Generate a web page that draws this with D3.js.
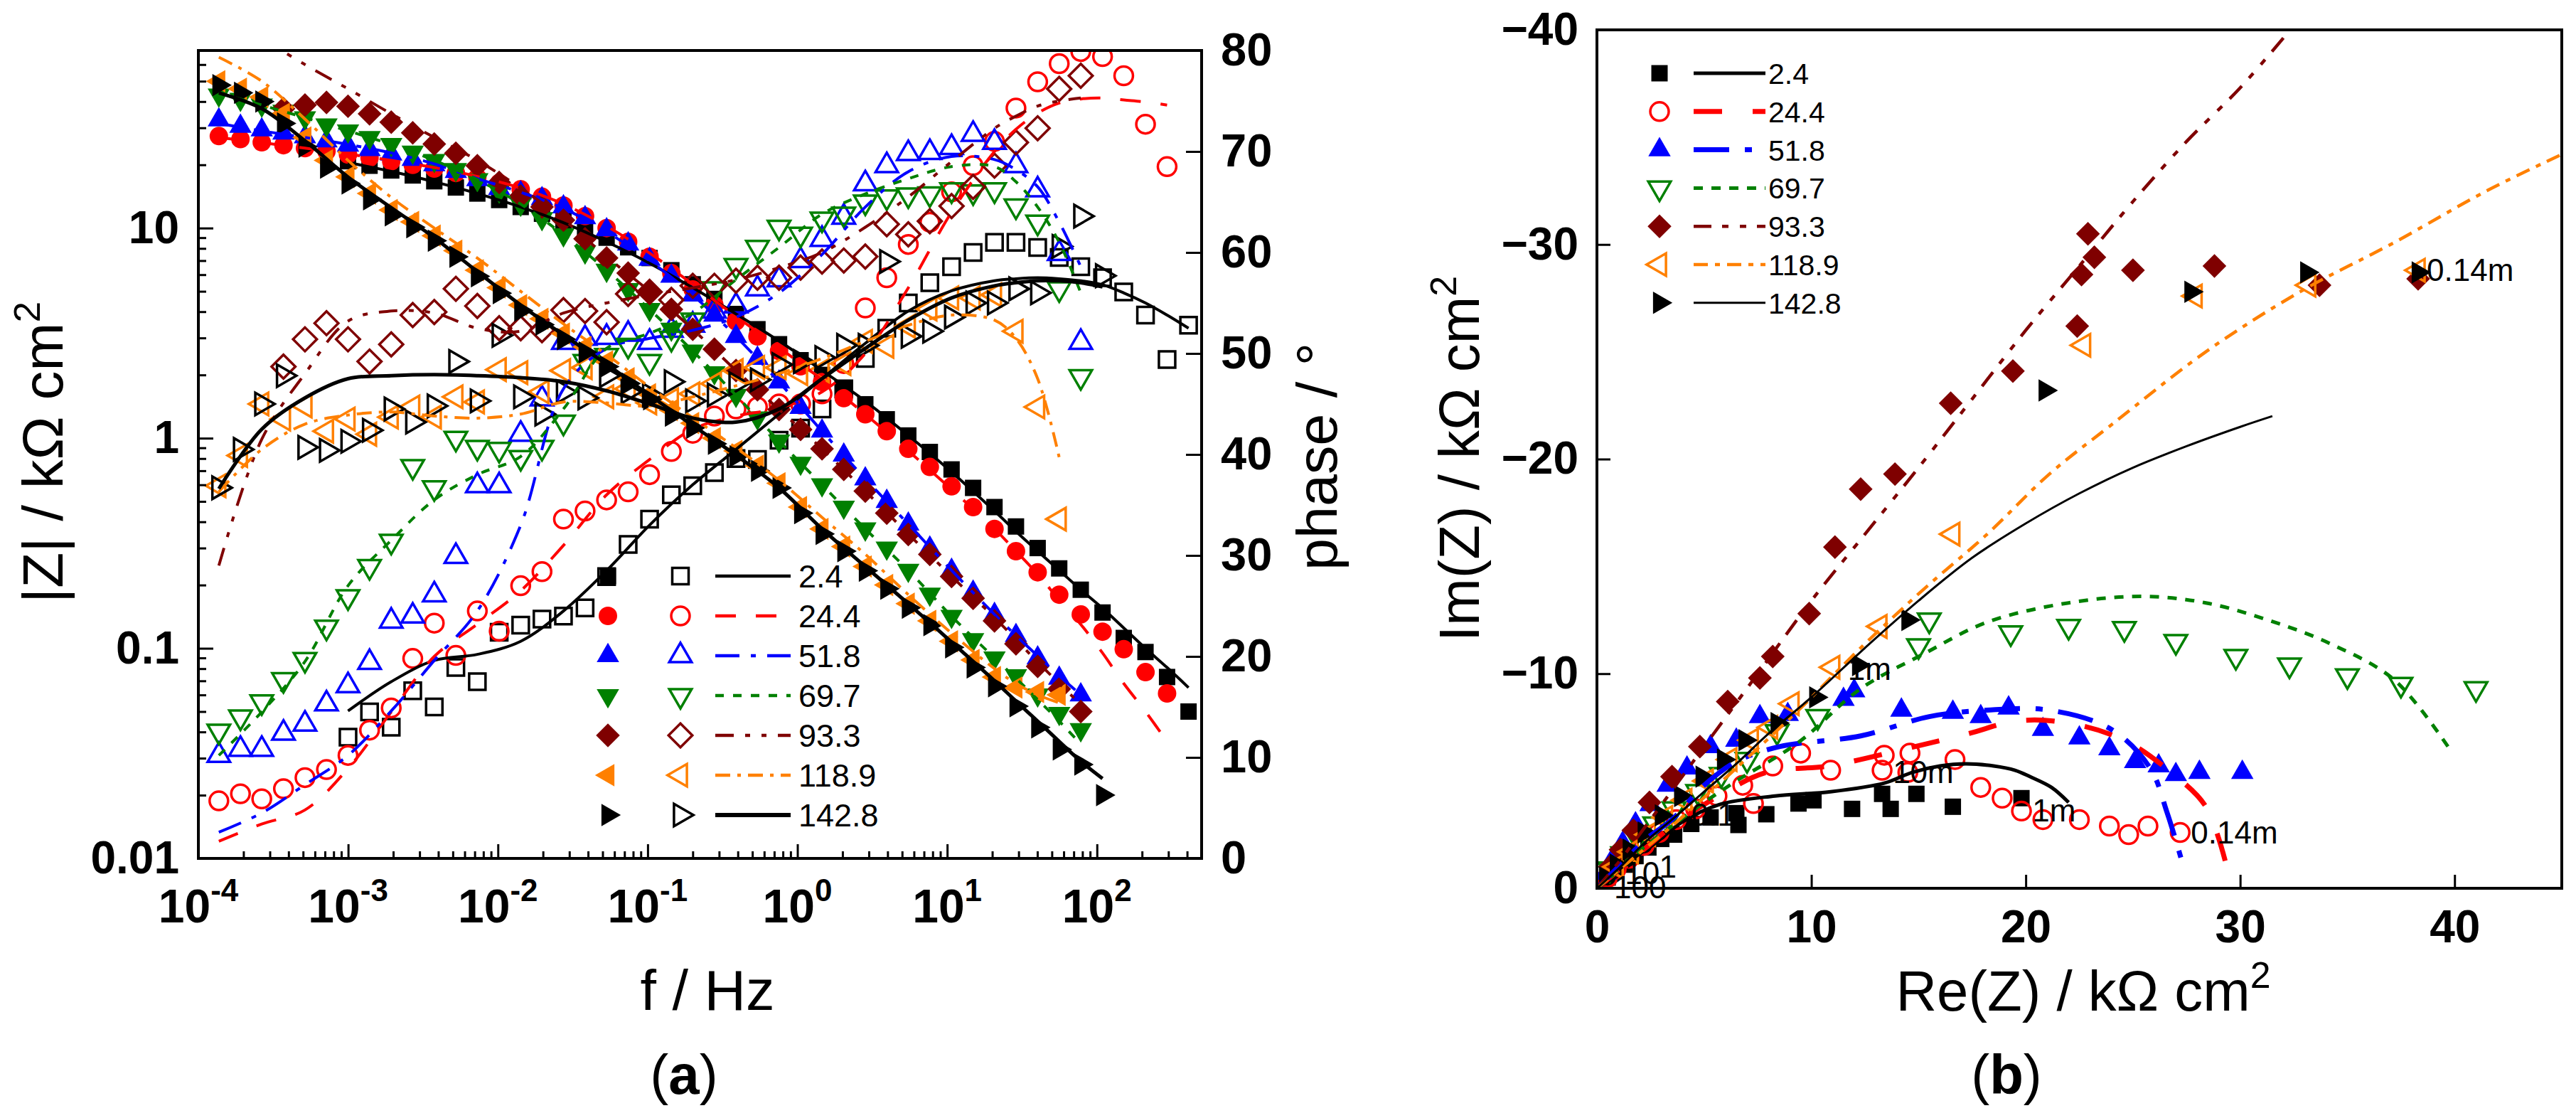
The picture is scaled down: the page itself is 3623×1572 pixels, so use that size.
<!DOCTYPE html>
<html>
<head>
<meta charset="utf-8">
<script src="https://cdnjs.cloudflare.com/ajax/libs/d3/7.8.5/d3.min.js"></script>
<style>
  body { margin: 0; background: #fff; }
  text { font-family: "Liberation Sans", Arial, sans-serif; }
</style>
</head>
<body>
<script>
// ---------------- data ----------------
// measured frequencies (Hz), ~7 per decade
var freq = [1.37e-4, 1.91e-4, 2.65e-4, 3.70e-4, 5.15e-4, 7.17e-4, 9.98e-4, 1.39e-3, 1.94e-3, 2.70e-3,
  3.76e-3, 5.24e-3, 7.29e-3, 0.0102, 0.0142, 0.0197, 0.0274, 0.0382, 0.0532, 0.0741,
  0.103, 0.144, 0.200, 0.279, 0.389, 0.541, 0.754, 1.05, 1.46, 2.04,
  2.84, 3.95, 5.50, 7.66, 10.7, 14.9, 20.7, 28.8, 40.2, 56.0,
  78.0, 109, 151, 211, 294, 409];
// frequencies of the fitted curves
var fitFreq = [1.37e-4, 2.65e-4, 5.15e-4, 9.98e-4, 1.94e-3, 3.76e-3, 7.29e-3, 0.0142, 0.0274, 0.0532,
  0.103, 0.200, 0.389, 0.754, 1.46, 2.84, 5.50, 10.7, 20.7, 28.8, 40.2, 56.0, 78.0, 109, 151, 211, 294, 409];

var names = ["2.4", "24.4", "51.8", "69.7", "93.3", "118.9", "142.8"];
var dataStart = [6, 0, 0, 0, 3, 0, 0];       // index into freq of first point
var fitMagStart = [3, 0, 0, 0, 1, 0, 0];     // index into fitFreq
var fitPhaseStart = [3, 0, 0, 0, 0, 0, 0];

// |Z| / kOhm cm2
var mag_2_4 = [20.8, 19.8, 18.8, 17.8, 16.7, 15.6, 14.6, 13.6, 12.6, 11.7, 10.8, 9.9, 9.0, 8.1, 7.2, 6.3, 5.4, 4.6, 3.9, 3.3,
  2.8, 2.35, 2.0, 1.72, 1.45, 1.23, 1.03, 0.86, 0.71, 0.58, 0.47, 0.38, 0.30, 0.24, 0.19, 0.148, 0.112, 0.096, 0.073, 0.050];
var mag_24_4 = [27.4, 26.5, 25.6, 24.8, 24.0, 23.2, 22.4, 21.6, 20.8, 20.0, 19.2, 18.3, 17.4, 16.4, 15.3, 14.1, 12.8, 11.4, 10.0, 8.6,
  7.3, 6.1, 5.1, 4.3, 3.6, 3.05, 2.6, 2.2, 1.85, 1.55, 1.3, 1.08, 0.89, 0.73, 0.59, 0.47, 0.37, 0.29, 0.23, 0.18, 0.145, 0.12, 0.099, 0.077, 0.061];
var mag_51_8 = [32.7, 30.5, 29.3, 28.3, 27.2, 26.0, 24.8, 23.6, 22.5, 21.2, 20.0, 18.6, 17.0, 15.4, 14.7, 13.8, 12.6, 11.2, 9.8, 8.4,
  7.1, 5.9, 4.8, 3.85, 3.05, 2.4, 1.85, 1.4, 1.08, 0.83, 0.64, 0.50, 0.39, 0.30, 0.235, 0.185, 0.145, 0.115, 0.09, 0.072, 0.060];
var mag_69_7 = [43, 41, 38.5, 36, 33.5, 31, 29, 27, 25, 23, 21, 19, 17, 15, 13, 11.1, 9.3, 7.7, 6.3, 5.1,
  4.1, 3.3, 2.6, 2.05, 1.6, 1.25, 0.97, 0.76, 0.6, 0.47, 0.37, 0.30, 0.235, 0.181, 0.142, 0.110, 0.090, 0.074, 0.060, 0.049, 0.041];
var mag_93_3 = [37, 38.5, 39.6, 38, 35, 31.9, 28.4, 25.1, 22.7, 19.8, 16.5, 14.2, 12.6, 10.9, 8.9, 7.2, 6.1, 5.0, 4.1, 3.3,
  2.65, 2.1, 1.7, 1.37, 1.1, 0.89, 0.71, 0.56, 0.44, 0.348, 0.28, 0.22, 0.173, 0.135, 0.105, 0.082, 0.064, 0.05];
var mag_118_9 = [50, 46, 42, 35, 27, 21, 17.5, 14.6, 12.2, 10.7, 9.2, 7.8, 6.3, 5.2, 4.3, 3.7, 3.15, 2.72, 2.32, 1.93,
  1.62, 1.36, 1.18, 1.0, 0.87, 0.74, 0.61, 0.47, 0.37, 0.305, 0.245, 0.2, 0.163, 0.135, 0.108, 0.088, 0.073, 0.065, 0.062, 0.060];
var mag_142_8 = [47.9, 44, 40, 31.5, 24.4, 19.4, 16.3, 13.7, 11.5, 10.1, 8.7, 7.3, 5.9, 4.9, 4.05, 3.47, 2.96, 2.56, 2.19, 1.82,
  1.53, 1.28, 1.12, 0.94, 0.82, 0.70, 0.58, 0.44, 0.35, 0.29, 0.234, 0.192, 0.156, 0.129, 0.101, 0.081, 0.066, 0.053, 0.042, 0.033, 0.028, 0.020];

// phase / degree
var phase_2_4 = [12.0, 14.5, 13.0, 16.6, 15.0, 18.9, 17.5, 22.4, 23.1, 23.7, 24.0, 24.8, 27.9, 31.1, 33.6, 36.0, 36.9, 38.2, 39.6, 39.5,
  41.4, 42.6, 44.5, 46.5, 49.5, 52.5, 55.0, 57.0, 58.6, 60.0, 61.0, 61.0, 60.5, 59.5, 58.6, 57.5, 56.1, 53.8, 49.4, 52.8];
var phase_24_4 = [5.7, 6.4, 5.9, 6.9, 8.0, 8.8, 10.2, 12.7, 14.9, 19.8, 23.3, 20.1, 24.5, 22.5, 27.0, 28.4, 33.6, 34.4, 35.5, 36.3,
  38.0, 40.3, 42.1, 43.8, 44.5, 44.7, 45.0, 45.0, 46.0, 49.0, 54.5, 57.5, 60.8, 63.0, 66.0, 68.6, 71.0, 74.3, 76.9, 78.7, 79.9, 79.4, 77.5, 72.7, 68.5];
var phase_51_8 = [10.2, 10.8, 10.8, 12.4, 13.3, 15.3, 17.1, 19.4, 23.5, 24.0, 26.1, 29.9, 36.9, 36.9, 42.0, 45.5, 51.1, 51.5, 51.6, 51.9,
  51.1, 52.3, 52.8, 54.2, 54.7, 56.4, 57.3, 59.2, 61.3, 63.5, 66.8, 68.6, 69.8, 69.9, 70.4, 71.7, 70.9, 68.6, 66.2, 59.9, 51.1];
var phase_69_7 = [12.6, 14.0, 15.5, 17.7, 19.7, 22.9, 25.9, 28.9, 31.4, 38.8, 36.7, 41.6, 40.7, 40.5, 39.7, 40.7, 43.2, 49.2, 49.8, 50.8,
  49.2, 51.5, 53.3, 56.4, 58.7, 60.5, 62.5, 61.8, 63.3, 63.8, 65.0, 65.5, 65.7, 65.8, 66.2, 66.0, 66.2, 64.6, 63.0, 56.4, 47.7];
var phase_93_3 = [48.7, 51.4, 53.0, 51.4, 49.2, 50.9, 53.8, 54.1, 56.4, 54.7, 52.5, 52.5, 52.3, 54.3, 54.2, 53.1, 55.9, 56.1, 55.3, 56.7,
  56.7, 57.2, 57.5, 57.5, 58.5, 59.1, 59.2, 59.6, 62.8, 61.8, 63.1, 64.6, 66.5, 68.6, 70.9, 72.3, 76.2, 77.5];
var phase_118_9 = [36.9, 39.9, 45.0, 43.5, 44.8, 42.3, 43.5, 42.0, 43.7, 44.7, 43.7, 45.7, 45.2, 48.4, 48.1, 46.2, 48.3, 48.6, 45.7, 46.5,
  45.1, 45.4, 46.0, 47.0, 48.3, 48.6, 48.6, 48.0, 48.3, 49.0, 51.2, 50.7, 52.7, 54.4, 55.5, 55.5, 55.8, 52.2, 44.7, 33.6];
var phase_142_8 = [36.7, 40.5, 45.0, 47.8, 40.7, 40.4, 41.3, 42.4, 44.5, 43.2, 44.8, 49.2, 45.3, 51.8, 45.7, 44.0, 46.2, 45.6, 47.8, 46.2,
  45.9, 47.2, 45.3, 45.9, 47.0, 47.4, 48.9, 49.2, 49.6, 50.8, 50.8, 59.1, 51.7, 52.2, 53.6, 55.0, 55.0, 56.4, 56.0, 60.6, 63.6, 57.7];

// fitted |Z|
var fitMag_2_4 = [20.5, 18.6, 16.6, 14.6, 12.6, 10.6, 8.6, 6.8, 5.2, 3.9, 2.9, 2.1, 1.5, 1.03, 0.69, 0.45, 0.36, 0.29, 0.235, 0.19, 0.155, 0.125, 0.1, 0.081, 0.065];
var fitMag_24_4 = [27.0, 25.5, 24.0, 22.5, 21.0, 19.4, 17.6, 15.5, 13.0, 10.2, 7.6, 5.4, 3.8, 2.7, 1.9, 1.3, 0.87, 0.57, 0.37, 0.29, 0.225, 0.17, 0.13, 0.095, 0.068, 0.05, 0.036];
var fitMag_51_8 = [31.5, 29.0, 27.0, 25.0, 22.8, 20.2, 17.2, 14.8, 12.4, 9.6, 7.0, 4.8, 3.05, 1.85, 1.08, 0.64, 0.39, 0.235, 0.145, 0.115, 0.092, 0.074, 0.06];
var fitMag_69_7 = [44, 38.5, 33.5, 29, 25, 21, 17, 13, 9.3, 6.3, 4.1, 2.6, 1.6, 0.97, 0.6, 0.37, 0.235, 0.142, 0.09, 0.072, 0.057, 0.045, 0.035];
var fitMag_93_3 = [80, 60, 46, 35, 27, 21, 15.5, 11, 7.3, 5.0, 3.3, 2.1, 1.37, 0.89, 0.56, 0.35, 0.22, 0.14, 0.11, 0.086, 0.068, 0.054];
var fitMag_118_9 = [65, 50, 33, 21, 14, 10, 7.2, 5.0, 3.5, 2.5, 1.75, 1.25, 0.9, 0.63, 0.42, 0.28, 0.18, 0.118, 0.08, 0.068, 0.06, 0.055];
var fitMag_142_8 = [44, 37, 26, 17.5, 12.5, 9.0, 6.2, 4.3, 3.1, 2.25, 1.6, 1.15, 0.83, 0.58, 0.37, 0.245, 0.163, 0.107, 0.07, 0.056, 0.045, 0.036, 0.029, 0.024];

// fitted phase
var fitPhase_2_4 = [14.6, 17.5, 19.6, 20.2, 21.5, 24.5, 28.5, 33.0, 37.0, 40.5, 44.0, 47.5, 51.0, 54.2, 56.2, 57.2, 57.4, 57.5, 57.4, 57.2, 56.8, 56.0, 55.0, 53.8, 52.5];
var fitPhase_24_4 = [1.7, 3.4, 4.8, 8.9, 14.5, 20.0, 23.2, 26.5, 31.0, 36.0, 39.5, 42.5, 43.8, 44.6, 46.2, 50.0, 56.5, 64.0, 70.0, 72.2, 73.8, 74.8, 75.2, 75.3, 75.1, 74.9, 74.6];
var fitPhase_51_8 = [2.6, 4.5, 7.3, 10.2, 14.6, 19.6, 24.5, 33.0, 46.5, 50.5, 51.5, 52.3, 53.6, 56.0, 59.8, 64.5, 68.0, 69.5, 69.2, 68.2, 66.5, 63.0, 58.6];
var fitPhase_69_7 = [10.2, 14.5, 19.5, 27.0, 31.5, 35.5, 38.0, 39.8, 44.5, 50.5, 52.0, 54.0, 57.3, 60.5, 63.8, 65.8, 67.3, 68.5, 68.5, 67.0, 64.5, 61.0, 56.0];
var fitPhase_93_3 = [29.0, 41.5, 48.0, 53.2, 54.2, 54.0, 52.5, 52.2, 54.0, 55.0, 55.8, 56.5, 57.3, 58.5, 60.0, 62.5, 65.5, 69.0, 72.3, 73.5, 74.5, 75.0, 75.3];
var fitPhase_118_9 = [36.3, 40.5, 43.0, 43.9, 44.2, 43.8, 43.6, 44.0, 45.2, 45.1, 44.8, 45.7, 46.8, 48.0, 49.5, 51.2, 52.8, 53.8, 53.3, 51.5, 47.5, 39.7];
var fitPhase_142_8 = [36.6, 42.5, 45.6, 47.5, 47.8, 47.9, 47.8, 47.6, 47.2, 46.3, 45.0, 43.6, 43.2, 44.5, 47.5, 50.5, 53.3, 55.5, 56.7, 57.0, 57.2, 57.2, 57.0, 56.6];

// Nyquist: measured points Re(Z), Im(Z) / kOhm cm2
var nyRe_2_4 = [19.8, 16.6, 14.9, 13.7, 13.3, 11.9, 10.1, 9.4, 7.9, 6.6, 6.5, 5.3, 4.4, 3.6, 3.0, 2.4, 1.8, 1.3, 0.9, 0.5, 0.3];
var nyIm_2_4 = [-4.2, -3.8, -4.4, -3.7, -4.4, -3.7, -4.1, -3.95, -3.45, -2.95, -3.5, -3.3, -3.0, -2.5, -2.3, -1.9, -1.5, -1.1, -0.8, -0.5, -0.3];
var nyRe_24_4 = [27.2, 25.7, 24.8, 23.9, 22.5, 20.8, 19.8, 18.9, 17.9, 16.7, 14.6, 14.5, 13.4, 13.3, 10.9, 9.5, 8.2, 7.3, 6.8, 5.6, 4.6, 3.7, 2.9, 2.2, 1.5, 0.9, 0.5];
var nyIm_24_4 = [-2.6, -2.9, -2.5, -2.9, -3.2, -3.2, -3.6, -4.2, -4.7, -6.0, -6.3, -5.4, -6.2, -5.5, -5.5, -6.3, -5.7, -3.95, -4.8, -4.3, -3.7, -3.2, -2.6, -2.0, -1.4, -0.9, -0.5];
var nyRe_51_8 = [30.1, 28.1, 27.0, 26.2, 25.1, 23.9, 22.5, 20.8, 19.2, 17.9, 16.6, 14.2, 12.0, 11.5, 8.9, 7.6, 6.5, 5.3, 4.2, 3.3, 2.5, 1.8, 1.2, 0.7, 0.4];
var nyIm_51_8 = [-5.4, -5.4, -5.3, -5.7, -5.9, -6.5, -7.0, -7.4, -8.4, -8.0, -8.2, -8.3, -9.2, -8.8, -8.1, -8.0, -6.9, -6.6, -5.6, -4.8, -3.9, -3.0, -2.1, -1.3, -0.7];
var nyRe_69_7 = [41.0, 37.5, 35.0, 32.3, 29.8, 27.0, 24.6, 22.0, 19.3, 15.5, 15.0, 10.3, 8.4, 7.0, 5.8, 4.7, 3.6, 2.7, 1.9, 1.2, 0.6];
var nyIm_69_7 = [-9.3, -9.5, -9.9, -10.4, -10.8, -11.5, -12.1, -12.2, -11.9, -12.5, -11.3, -8.0, -7.3, -6.0, -5.3, -4.5, -3.7, -3.0, -2.3, -1.6, -0.9];
var nyRe_93_3 = [38.3, 33.7, 28.8, 25.0, 23.2, 22.9, 22.6, 22.4, 19.4, 16.5, 13.9, 12.3, 11.1, 9.9, 8.2, 7.6, 6.1, 4.8, 3.5, 2.45, 1.7, 1.1, 0.6];
var nyIm_93_3 = [-28.4, -28.1, -29.0, -28.8, -29.4, -30.5, -28.6, -26.2, -24.1, -22.6, -19.3, -18.6, -15.9, -12.8, -10.8, -9.8, -8.7, -6.6, -5.2, -4.0, -2.7, -1.8, -1.0];
var nyRe_118_9 = [38.3, 33.2, 27.9, 22.7, 16.6, 13.2, 11.0, 9.1, 8.1, 7.2, 6.2, 5.1, 4.1, 3.2, 2.4, 1.6, 0.9];
var nyIm_118_9 = [-28.8, -28.1, -27.6, -25.3, -16.5, -12.2, -10.3, -8.6, -7.5, -6.9, -6.0, -5.0, -4.1, -3.3, -2.5, -1.7, -1.0];
var nyRe_142_8 = [38.3, 33.1, 27.7, 20.9, 14.5, 12.2, 10.2, 8.4, 6.9, 5.9, 4.9, 3.9, 3.0, 2.2, 1.5, 0.9, 0.4];
var nyIm_142_8 = [-28.7, -28.7, -27.8, -23.2, -12.5, -10.4, -8.9, -7.7, -6.9, -6.0, -5.2, -4.3, -3.4, -2.6, -1.8, -1.1, -0.5];

// Nyquist: fitted curves
var nyFitRe_2_4 = [0, 0.8, 1.7, 2.65, 4.0, 5.7, 8.3, 10.9, 13.4, 14.7, 16.0, 17.2, 18.5, 19.5, 20.2, 21.2, 22.0];
var nyFitIm_2_4 = [0, -0.7, -1.4, -2.05, -3.1, -3.9, -4.3, -4.5, -4.9, -5.4, -5.7, -5.8, -5.7, -5.5, -5.2, -4.7, -4.0];
var nyFitRe_24_4 = [0, 1.2, 2.3, 3.5, 5.5, 7.9, 10.8, 14.4, 17.3, 19.6, 22.0, 24.6, 26.9, 28.4, 29.4];
var nyFitIm_24_4 = [0, -1.0, -1.9, -2.9, -4.2, -5.4, -5.7, -6.5, -7.2, -7.8, -7.7, -6.9, -5.3, -3.8, -0.9];
var nyFitRe_51_8 = [0, 1.2, 2.3, 3.5, 5.0, 6.5, 8.5, 12.3, 15.5, 18.2, 21.1, 24.0, 25.8, 26.6, 27.3];
var nyFitIm_51_8 = [0, -1.2, -2.3, -3.2, -4.8, -5.9, -6.6, -7.1, -8.0, -8.3, -8.3, -7.4, -5.6, -3.5, -1.2];
var nyFitRe_69_7 = [0, 1.2, 2.3, 3.5, 5.0, 6.5, 9.4, 12.3, 15.2, 18.2, 22.0, 25.5, 28.4, 31.3, 34.2, 37.2, 39.9];
var nyFitIm_69_7 = [0, -1.0, -2.0, -2.9, -4.0, -5.0, -6.8, -9.3, -10.9, -12.4, -13.3, -13.6, -13.3, -12.5, -11.4, -9.7, -6.3];
var nyFitRe_93_3 = [0, 1.0, 2.5, 5.0, 7.5, 10.0, 12.5, 15.0, 17.5, 20.0, 22.5, 25.0, 27.5, 30.0, 32.5];
var nyFitIm_93_3 = [0, -1.2, -3.2, -6.6, -10.0, -13.4, -16.5, -19.6, -22.8, -26.0, -29.0, -32.0, -34.8, -37.3, -40.2];
var nyFitRe_118_9 = [0, 1.2, 2.3, 3.5, 6.5, 9.4, 12.3, 15.2, 18.2, 21.1, 24.0, 28.4, 32.8, 37.2, 41.5, 45.0];
var nyFitIm_118_9 = [0, -1.0, -1.9, -2.9, -5.6, -8.3, -11.2, -13.9, -16.5, -19.3, -21.6, -25.0, -27.8, -30.1, -32.5, -34.2];
var nyFitRe_142_8 = [0, 1.2, 2.3, 3.5, 5.0, 6.5, 8.0, 10.0, 12.5, 15.0, 17.5, 20.0, 22.5, 25.0, 27.5, 30.0, 31.5];
var nyFitIm_142_8 = [0, -1.1, -2.2, -3.2, -4.5, -5.8, -7.2, -8.9, -11.2, -13.4, -15.4, -17.0, -18.4, -19.6, -20.6, -21.5, -22.0];

// frequency annotations in the Nyquist plot
var nyLabelText = ["0.14m", "0.14m", "1m", "10m", "1m", "0.1", "1", "10", "100"];
var nyLabelRe = [38.7, 27.7, 20.3, 13.8, 11.7, 4.4, 2.9, 1.3, 0.8];
var nyLabelIm = [-28.3, -2.1, -3.1, -4.9, -9.7, -2.9, -0.5, -0.2, 0.45];

// ---------------- styles ----------------
var colors = ["#000000", "#ff0000", "#0000ff", "#008000", "#7f0000", "#ff8000", "#000000"];
var shapes = ["square", "circle", "up", "down", "diamond", "left", "right"];
var dashA = ["", "29,28", "34,16,7,16", "12,13", "26,16,7,16,7,16", "21,10,5,10", ""];
var widthA = [4, 4, 4, 4, 4, 4, 5];
var dashB = ["", "40,43", "50,22,10,22", "13,12", "25,15,9,16,9,15", "20,10,7,10", ""];
var widthB = [5, 7, 7, 5, 4.5, 4.5, 3];
var filledB = [true, false, true, false, true, false, true];

var magData = [mag_2_4, mag_24_4, mag_51_8, mag_69_7, mag_93_3, mag_118_9, mag_142_8];
var phaseData = [phase_2_4, phase_24_4, phase_51_8, phase_69_7, phase_93_3, phase_118_9, phase_142_8];
var fitMagData = [fitMag_2_4, fitMag_24_4, fitMag_51_8, fitMag_69_7, fitMag_93_3, fitMag_118_9, fitMag_142_8];
var fitPhaseData = [fitPhase_2_4, fitPhase_24_4, fitPhase_51_8, fitPhase_69_7, fitPhase_93_3, fitPhase_118_9, fitPhase_142_8];
var nyRe = [nyRe_2_4, nyRe_24_4, nyRe_51_8, nyRe_69_7, nyRe_93_3, nyRe_118_9, nyRe_142_8];
var nyIm = [nyIm_2_4, nyIm_24_4, nyIm_51_8, nyIm_69_7, nyIm_93_3, nyIm_118_9, nyIm_142_8];
var nyFitRe = [nyFitRe_2_4, nyFitRe_24_4, nyFitRe_51_8, nyFitRe_69_7, nyFitRe_93_3, nyFitRe_118_9, nyFitRe_142_8];
var nyFitIm = [nyFitIm_2_4, nyFitIm_24_4, nyFitIm_51_8, nyFitIm_69_7, nyFitIm_93_3, nyFitIm_118_9, nyFitIm_142_8];

var FONT = "'Liberation Sans', Arial, sans-serif";
var rotation = {square: 0, circle: 0, up: 0, down: 180, diamond: 45, left: -90, right: 90};
var symSize = {square: 529, circle: 530, up: 430, down: 430, diamond: 560, left: 430, right: 430};

function symbolPath(shape) {
  var t = shape === "circle" ? d3.symbolCircle : (shape === "square" || shape === "diamond") ? d3.symbolSquare : d3.symbolTriangle;
  return d3.symbol().type(t).size(symSize[shape])();
}

function drawMarkers(g, pts, shape, color, filled) {
  g.selectAll(null).data(pts).enter().append("path")
    .attr("d", symbolPath(shape))
    .attr("transform", function(d) { return "translate(" + d[0] + "," + d[1] + ") rotate(" + rotation[shape] + ")"; })
    .attr("fill", filled ? color : "none")
    .attr("stroke", filled ? "none" : color)
    .attr("stroke-width", 3.5);
}

function drawLine(g, pts, color, dash, width) {
  g.append("path")
    .attr("d", d3.line().curve(d3.curveCatmullRom)(pts))
    .attr("fill", "none")
    .attr("stroke", color)
    .attr("stroke-width", width)
    .attr("stroke-dasharray", dash || null);
}

function styleAxis(g, size) {
  g.select(".domain").remove();
  g.selectAll(".tick line").attr("stroke", "#000").attr("stroke-width", 3);
  g.selectAll(".tick text")
    .attr("font-family", FONT).attr("font-size", size)
    .attr("font-weight", "bold").attr("fill", "#000");
}

var svg = d3.select("body").append("svg")
  .attr("width", 3623).attr("height", 1572);
svg.append("rect").attr("width", 3623).attr("height", 1572).attr("fill", "#fff");
var defs = svg.append("defs");

// ================= panel (a): Bode =================
var a = {left: 279, right: 1690, top: 71, bottom: 1207};
var xF = d3.scaleLog().domain([1e-4, 500]).range([a.left, a.right]);
var yMag = d3.scaleLog().domain([0.01, 70]).range([a.bottom, a.top]);
var yPhase = d3.scaleLinear().domain([0, 80]).range([a.bottom, a.top]);

defs.append("clipPath").attr("id", "clipA").append("rect")
  .attr("x", a.left).attr("y", a.top).attr("width", a.right - a.left).attr("height", a.bottom - a.top);
var plotA = svg.append("g").attr("clip-path", "url(#clipA)");

names.forEach(function(n, i) {
  var s = dataStart[i];
  var magPts = magData[i].map(function(v, j) { return [xF(freq[s + j]), yMag(v)]; });
  var phPts = phaseData[i].map(function(v, j) { return [xF(freq[s + j]), yPhase(v)]; });
  drawMarkers(plotA, phPts, shapes[i], colors[i], false);
  drawMarkers(plotA, magPts, shapes[i], colors[i], true);
});
names.forEach(function(n, i) {
  var fm = fitMagData[i].map(function(v, j) { return [xF(fitFreq[fitMagStart[i] + j]), yMag(v)]; });
  var fp = fitPhaseData[i].map(function(v, j) { return [xF(fitFreq[fitPhaseStart[i] + j]), yPhase(v)]; });
  drawLine(plotA, fm, colors[i], dashA[i], widthA[i]);
  drawLine(plotA, fp, colors[i], dashA[i], widthA[i]);
});

// axes of (a)
var majorF = [1e-4, 1e-3, 1e-2, 1e-1, 1, 10, 100];
var expF = ["-4", "-3", "-2", "-1", "0", "1", "2"];
var minorF = [];
majorF.forEach(function(d) { for (var m = 2; m <= 9; m++) { if (m * d < 499) minorF.push(m * d); } });
var majorZ = [0.01, 0.1, 1, 10];
var minorZ = [];
[0.01, 0.1, 1, 10].forEach(function(d) { for (var m = 2; m <= 9; m++) { if (m * d < 70) minorZ.push(m * d); } });

svg.append("g").attr("transform", "translate(0," + a.bottom + ")")
  .call(d3.axisBottom(xF).tickValues(majorF).tickSize(-20).tickFormat(""))
  .call(styleAxis, 60);
svg.append("g").attr("transform", "translate(0," + a.bottom + ")")
  .call(d3.axisBottom(xF).tickValues(minorF).tickSize(-10).tickFormat(""))
  .call(styleAxis, 60);
var xLab = svg.append("g");
majorF.forEach(function(f, i) {
  var t = xLab.append("text").attr("x", xF(f)).attr("y", 1297)
    .attr("text-anchor", "middle").attr("font-family", FONT)
    .attr("font-weight", "bold").attr("font-size", 66);
  t.append("tspan").text("10");
  t.append("tspan").attr("dy", -30).attr("font-size", 44).text(expF[i]);
});

svg.append("g").attr("transform", "translate(" + a.left + ",0)")
  .call(d3.axisLeft(yMag).tickValues(majorZ).tickSize(-21).tickPadding(27)
    .tickFormat(function(d) { return d >= 1 ? d3.format("d")(d) : String(d); }))
  .call(styleAxis, 64);
svg.append("g").attr("transform", "translate(" + a.left + ",0)")
  .call(d3.axisLeft(yMag).tickValues(minorZ).tickSize(-11).tickFormat(""))
  .call(styleAxis, 64);
svg.append("g").attr("transform", "translate(" + a.right + ",0)")
  .call(d3.axisRight(yPhase).tickValues(d3.range(0, 81, 10)).tickSize(-22).tickPadding(27))
  .call(styleAxis, 65);

svg.append("rect").attr("x", a.left).attr("y", a.top)
  .attr("width", a.right - a.left).attr("height", a.bottom - a.top)
  .attr("fill", "none").attr("stroke", "#000").attr("stroke-width", 4);

// legend of (a)
var legA = svg.append("g");
names.forEach(function(n, i) {
  var y = 810 + 56 * i;
  drawMarkers(legA, [[855, y]], shapes[i], colors[i], true);
  drawMarkers(legA, [[957, y]], shapes[i], colors[i], false);
  legA.append("line").attr("x1", 1006).attr("x2", 1112).attr("y1", y).attr("y2", y)
    .attr("stroke", colors[i]).attr("stroke-width", i === 6 ? 6 : 4.5)
    .attr("stroke-dasharray", dashA[i] || null);
  legA.append("text").attr("x", 1123).attr("y", y + 16)
    .attr("font-family", FONT).attr("font-size", 45).text(n);
});

// titles of (a)
svg.append("text").attr("transform", "translate(88,636) rotate(-90)")
  .attr("text-anchor", "middle").attr("font-family", FONT).attr("font-size", 80)
  .attr("textLength", 424).attr("lengthAdjust", "spacingAndGlyphs")
  .call(function(t) { t.append("tspan").text("|Z| / k\u03A9 cm"); t.append("tspan").attr("dy", -32).attr("font-size", 52).text("2"); });
svg.append("text").attr("transform", "translate(1880,642) rotate(-90)")
  .attr("text-anchor", "middle").attr("font-family", FONT).attr("font-size", 80)
  .attr("textLength", 320).attr("lengthAdjust", "spacingAndGlyphs")
  .text("phase / \u00B0");
svg.append("text").attr("x", 995).attr("y", 1420)
  .attr("text-anchor", "middle").attr("font-family", FONT).attr("font-size", 80)
  .attr("textLength", 189).attr("lengthAdjust", "spacingAndGlyphs")
  .text("f / Hz");

// ================= panel (b): Nyquist =================
var b = {left: 2246, right: 3603, top: 42, bottom: 1249};
var xRe = d3.scaleLinear().domain([0, 45]).range([b.left, b.right]);
var yIm = d3.scaleLinear().domain([0, -40]).range([b.bottom, b.top]);

defs.append("clipPath").attr("id", "clipB").append("rect")
  .attr("x", b.left).attr("y", b.top).attr("width", b.right - b.left).attr("height", b.bottom - b.top);
var plotB = svg.append("g").attr("clip-path", "url(#clipB)");

names.forEach(function(n, i) {
  var pts = nyRe[i].map(function(v, j) { return [xRe(v), yIm(nyIm[i][j])]; });
  drawMarkers(plotB, pts, shapes[i], colors[i], filledB[i]);
});
names.forEach(function(n, i) {
  var pts = nyFitRe[i].map(function(v, j) { return [xRe(v), yIm(nyFitIm[i][j])]; });
  drawLine(plotB, pts, colors[i], dashB[i], widthB[i]);
});

svg.append("g").attr("class", "nylabels").selectAll("text")
  .data(nyLabelText).enter().append("text")
  .attr("x", function(d, i) { return xRe(nyLabelRe[i]); })
  .attr("y", function(d, i) { return yIm(nyLabelIm[i]); })
  .attr("font-family", FONT).attr("font-size", 44).attr("fill", "#000")
  .text(function(d) { return d; });

svg.append("g").attr("transform", "translate(0," + b.bottom + ")")
  .call(d3.axisBottom(xRe).tickValues([0, 10, 20, 30, 40]).tickSize(-19).tickPadding(31))
  .call(styleAxis, 64);
svg.append("g").attr("transform", "translate(" + b.left + ",0)")
  .call(d3.axisLeft(yIm).tickValues([0, -10, -20, -30, -40]).tickSize(-19).tickPadding(26)
    .tickFormat(function(d) { return d === 0 ? "0" : "\u2212" + Math.abs(d); }))
  .call(styleAxis, 64);

svg.append("rect").attr("x", b.left).attr("y", b.top)
  .attr("width", b.right - b.left).attr("height", b.bottom - b.top)
  .attr("fill", "none").attr("stroke", "#000").attr("stroke-width", 4);

// legend of (b)
var legB = svg.append("g");
names.forEach(function(n, i) {
  var y = 103 + 53.8 * i;
  drawMarkers(legB, [[2334, y]], shapes[i], colors[i], filledB[i]);
  legB.append("line").attr("x1", 2382).attr("x2", 2483).attr("y1", y).attr("y2", y)
    .attr("stroke", colors[i]).attr("stroke-width", widthB[i])
    .attr("stroke-dasharray", dashB[i] || null);
  legB.append("text").attr("x", 2487).attr("y", y + 15)
    .attr("font-family", FONT).attr("font-size", 41).text(n);
});

svg.append("text").attr("transform", "translate(2080,645) rotate(-90)")
  .attr("text-anchor", "middle").attr("font-family", FONT).attr("font-size", 80)
  .attr("textLength", 514).attr("lengthAdjust", "spacingAndGlyphs")
  .call(function(t) { t.append("tspan").text("Im(Z) / k\u03A9 cm"); t.append("tspan").attr("dy", -32).attr("font-size", 52).text("2"); });
svg.append("text").attr("x", 2930).attr("y", 1421)
  .attr("text-anchor", "middle").attr("font-family", FONT).attr("font-size", 80)
  .attr("textLength", 527).attr("lengthAdjust", "spacingAndGlyphs")
  .call(function(t) { t.append("tspan").text("Re(Z) / k\u03A9 cm"); t.append("tspan").attr("dy", -32).attr("font-size", 52).text("2"); });

// panel captions
[["a", 962], ["b", 2822]].forEach(function(c) {
  var t = svg.append("text").attr("x", c[1]).attr("y", 1538).attr("text-anchor", "middle")
    .attr("font-family", "'Liberation Serif', 'Times New Roman', serif").attr("font-size", 78);
  t.append("tspan").text("(");
  t.append("tspan").attr("font-weight", "bold").text(c[0]);
  t.append("tspan").text(")");
});
</script>
</body>
</html>
